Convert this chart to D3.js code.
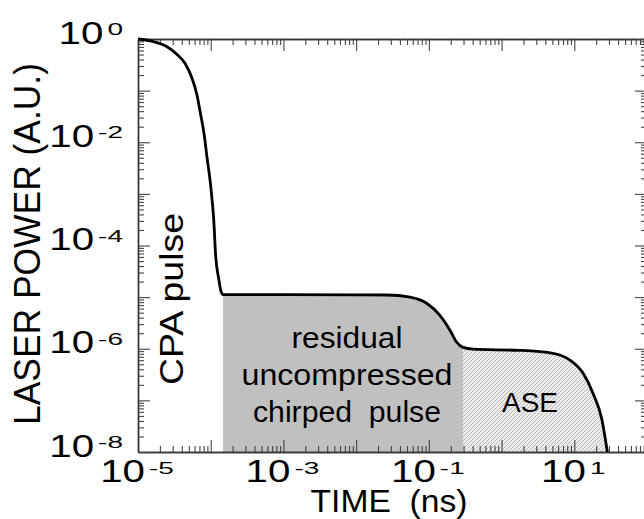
<!DOCTYPE html>
<html lang="en">
<head>
<meta charset="UTF-8" />
<title>Laser power vs time</title>
<script src="https://d3js.org/d3.v7.min.js"></script>
<style>
  body { margin: 0; background: #fff; }
  svg { display: block; font-family: "Liberation Sans", Arial, sans-serif; }
</style>
</head>
<body>
<svg width="644" height="519"></svg>
<script>
// curve: time (ns) and power (A.U.)
const times = [1e-5, 1.62e-5, 2.51e-5, 3.39e-5, 4.47e-5, 5.5e-5, 6.46e-5, 7.24e-5, 8.13e-5, 8.91e-5,
  1.0e-4, 1.10e-4, 1.17e-4, 1.29e-4, 1.38e-4, 1.48e-4, 1e-3, 1e-2, 0.0263, 0.055,
  0.0933, 0.141, 0.195, 0.240, 0.295, 0.407, 1.78, 5.13, 8.71, 13.3,
  18.2, 24.0, 28.5];
const powers = [1, 0.891, 0.708, 0.513, 0.331, 0.178, 0.0832, 0.0355, 0.0141, 5.0e-3,
  1.41e-3, 3.16e-4, 6.3e-5, 2.24e-5, 1.32e-5, 1.12e-5, 1.12e-5, 1.11e-5, 1.10e-5, 1.0e-5,
  7.6e-6, 4.47e-6, 2.29e-6, 1.35e-6, 1.06e-6, 9.8e-7, 9.3e-7, 8.1e-7, 6.0e-7, 3.3e-7,
  1.35e-7, 4.2e-8, 1e-8];

// region limits (ns)
const chirpStart = 1.48e-4, aseStart = 0.295, aseEnd = 28.5;

const xExps = [-5, -4, -3, -2, -1, 0, 1, 2];
const yExps = [0, -1, -2, -3, -4, -5, -6, -7, -8];
const xLabelExps = [-5, -3, -1, 1];
const yLabelExps = [0, -2, -4, -6, -8];
const minorMult = [2, 3, 4, 5, 6, 7, 8, 9];

const svg = d3.select("svg");
const plotL = 138, plotR = 647, plotT = 39, plotB = 452;

const x = d3.scaleLog().domain([1e-5, 1e2]).range([plotL, plotR]);
const y = d3.scaleLog().domain([1e-8, 1]).range([plotB, plotT]);

const data = times.map((t, i) => ({ t: t, p: powers[i] }));

// hatch pattern for ASE
const defs = svg.append("defs");
const pat = defs.append("pattern").attr("id", "hatch")
  .attr("patternUnits", "userSpaceOnUse").attr("width", 4).attr("height", 4);
pat.append("rect").attr("width", 4).attr("height", 4).attr("fill", "#ebebeb");
pat.append("path").attr("d", "M-1,1 l2,-2 M0,4 l4,-4 M3,5 l2,-2")
  .attr("stroke", "#b4b4b4").attr("stroke-width", 0.9);

const area = d3.area()
  .x(d => x(d.t)).y0(plotB).y1(d => y(d.p))
  .curve(d3.curveMonotoneX);

svg.append("path")
  .datum(data.filter(d => d.t >= chirpStart && d.t <= aseStart))
  .attr("d", area).attr("fill", "#c0c0c0");
svg.append("path")
  .datum(data.filter(d => d.t >= aseStart && d.t <= aseEnd))
  .attr("d", area).attr("fill", "url(#hatch)");

// axes: major + minor ticks, all pointing inward
const xMajor = xExps.map(e => Math.pow(10, e));
const yMajor = yExps.map(e => Math.pow(10, e));
const xMinor = [], yMinor = [];
xExps.slice(0, -1).forEach(e => minorMult.forEach(m => xMinor.push(m * Math.pow(10, e))));
yExps.slice(1).forEach(e => minorMult.forEach(m => yMinor.push(m * Math.pow(10, e))));

function drawAxis(gen, tx, ty) {
  const g = svg.append("g").attr("transform", `translate(${tx},${ty})`).call(gen);
  g.selectAll("text").remove();
  g.select(".domain").attr("stroke", "#333").attr("stroke-width", 1.4);
  g.selectAll(".tick line").attr("stroke", "#444").attr("stroke-width", 1.1);
  return g;
}
[[d3.axisBottom, plotB], [d3.axisTop, plotT]].forEach(([ax, ty]) => {
  drawAxis(ax(x).tickValues(xMajor).tickSize(-12).tickSizeOuter(0), 0, ty);
  drawAxis(ax(x).tickValues(xMinor).tickSize(-6).tickSizeOuter(0), 0, ty);
});
[[d3.axisLeft, plotL], [d3.axisRight, plotR]].forEach(([ax, tx]) => {
  drawAxis(ax(y).tickValues(yMajor).tickSize(-12).tickSizeOuter(0), tx, 0);
  drawAxis(ax(y).tickValues(yMinor).tickSize(-6).tickSizeOuter(0), tx, 0);
});

// curve
svg.append("path").datum(data)
  .attr("d", d3.line().x(d => x(d.t)).y(d => y(d.p)).curve(d3.curveMonotoneX))
  .attr("fill", "none").attr("stroke", "#000").attr("stroke-width", 2.8)
  .attr("stroke-linejoin", "round");

// power-of-ten labels, stretched sideways like the original
function powLabel(e) {
  const g = svg.append("g");
  const base = g.append("g");
  base.append("text").attr("font-size", 31).text("10");
  const sup = g.append("g");
  sup.append("text").attr("font-size", 16).text(e < 0 ? "-" + Math.abs(e) : String(e));
  const wBase = base.select("text").node().getComputedTextLength() * 1.3;
  const wSup = sup.select("text").node().getComputedTextLength() * 1.75;
  return { g, base, sup, wBase, wSup };
}

yLabelExps.forEach(e => {
  const l = powLabel(e);
  const ty = y(Math.pow(10, e)) + 4.5;
  const supX = plotL - 15 - l.wSup;
  l.sup.attr("transform", `translate(${supX},${ty - 8.5}) scale(1.75,1)`);
  l.base.attr("transform", `translate(${supX - 4 - l.wBase},${ty}) scale(1.3,1)`);
});

xLabelExps.forEach(e => {
  const l = powLabel(e);
  const total = l.wBase + 4 + l.wSup;
  const sx = x(Math.pow(10, e)) - total / 2 - 1;
  l.base.attr("transform", `translate(${sx},482) scale(1.3,1)`);
  l.sup.attr("transform", `translate(${sx + l.wBase + 4},473.5) scale(1.75,1)`);
});

// axis titles
svg.append("text")
  .attr("x", 389).attr("y", 512).attr("text-anchor", "middle")
  .attr("font-size", 31)
  .attr("textLength", 157).attr("lengthAdjust", "spacingAndGlyphs")
  .text("TIME\u00A0\u00A0(ns)");

svg.append("text")
  .attr("transform", "translate(40,244) rotate(-90)")
  .attr("text-anchor", "middle").attr("font-size", 37)
  .attr("textLength", 362).attr("lengthAdjust", "spacingAndGlyphs")
  .text("LASER POWER (A.U.)");

// region annotations
svg.append("text")
  .attr("transform", "translate(183,299) rotate(-90)")
  .attr("text-anchor", "middle").attr("font-size", 33)
  .attr("textLength", 172).attr("lengthAdjust", "spacingAndGlyphs")
  .text("CPA pulse");

const chirpLines = ["residual", "uncompressed", "chirped\u00A0\u00A0pulse"];
const chirpWidths = [111, 211, 188];
chirpLines.forEach((s, i) => {
  svg.append("text")
    .attr("x", 347).attr("y", 348 + i * 37)
    .attr("text-anchor", "middle").attr("font-size", 30)
    .attr("textLength", chirpWidths[i]).attr("lengthAdjust", "spacingAndGlyphs")
    .text(s);
});

svg.append("text")
  .attr("x", 530).attr("y", 411.5).attr("text-anchor", "middle")
  .attr("font-size", 28)
  .text("ASE");
</script>
</body>
</html>
